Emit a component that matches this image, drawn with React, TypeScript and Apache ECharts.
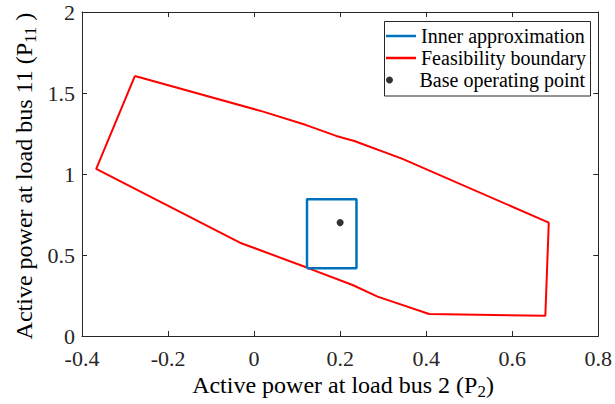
import React, { useEffect, useRef } from "react";
import * as echarts from "echarts";

const xTicks = { min: -0.4, max: 0.8, step: 0.2 };
const yTicks = { min: 0, max: 2, step: 0.5 };

const feasP2 = [-0.277, 0.021, 0.121, 0.191, 0.233, 0.345, 0.685, 0.677, 0.407, 0.287, 0.229, 0.121, -0.033, -0.367, -0.277];
const feasP11 = [1.605, 1.385, 1.302, 1.235, 1.204, 1.093, 0.7, 0.125, 0.136, 0.243, 0.315, 0.424, 0.576, 1.031, 1.605];

const innerP2 = [0.123, 0.238, 0.238, 0.123, 0.123];
const innerP11 = [0.418, 0.418, 0.844, 0.844, 0.418];

const baseP2 = [0.2];
const baseP11 = [0.7];

const names = ["Inner approximation", "Feasibility boundary", "Base operating point"];

const FONT = "'Liberation Serif', 'Times New Roman', serif";
const AX = "#262626";

const zip = (a: number[], b: number[]) => a.map((v, i) => [v, b[i]]);

export default function App() {
  const ref = useRef<HTMLDivElement>(null);
  useEffect(() => {
    const chart = echarts.init(ref.current!, null, { renderer: "svg" });
    const axisCommon = {
      type: "value" as const,
      axisLine: { show: true, onZero: false, lineStyle: { color: AX, width: 1 } },
      axisTick: { show: true, inside: true, length: 5, lineStyle: { color: AX } },
      splitLine: { show: false },
    };
    const labelStyle = { fontFamily: FONT, fontSize: 22, color: AX, lineHeight: 16 };
    const subStyle = { fontFamily: FONT, fontSize: 17, fill: "#000", padding: [13, 0, 0, 0], verticalAlign: "bottom" };
    chart.setOption({
      animation: false,
      backgroundColor: "#fff",
      textStyle: { fontFamily: FONT },
      grid: { left: 82, right: 15, top: 12, bottom: 68, containLabel: false },
      xAxis: [
        { ...axisCommon, position: "bottom", min: xTicks.min, max: xTicks.max, interval: xTicks.step,
          axisLabel: { ...labelStyle, margin: 14 } },
        { ...axisCommon, position: "top", min: xTicks.min, max: xTicks.max, interval: xTicks.step,
          axisLabel: { show: false } },
      ],
      yAxis: [
        { ...axisCommon, position: "left", min: yTicks.min, max: yTicks.max, interval: yTicks.step,
          axisLabel: { ...labelStyle, margin: 7 } },
        { ...axisCommon, position: "right", min: yTicks.min, max: yTicks.max, interval: yTicks.step,
          axisLabel: { show: false } },
      ],
      legend: [
        {
          data: [names[0], names[1]],
          orient: "vertical", left: 386, top: 25, padding: 0, itemWidth: 30, itemHeight: 2.5, itemGap: 0,
          icon: "rect",
          textStyle: { fontFamily: FONT, fontSize: 20, color: "#000", lineHeight: 22 },
        },
        {
          data: [names[2]],
          orient: "vertical", left: 386, top: 69, padding: 0, itemWidth: 38, itemHeight: 7, itemGap: 0,
          icon: "circle",
          textStyle: { fontFamily: FONT, fontSize: 20, color: "#000", lineHeight: 22, padding: [0, 0, 0, 6] },
        },
      ],
      graphic: [
        { type: "rect", z: 3, shape: { x: 384.5, y: 21.5, width: 206, height: 74.5 },
          style: { fill: "#fff", stroke: AX, lineWidth: 1 } },
        { type: "text", x: 343, y: 385,
          style: {
            text: "Active power at load bus 2 (P{s|2})",
            fontFamily: FONT, fontSize: 24, fill: "#000", align: "center", verticalAlign: "middle",
            rich: { s: subStyle },
          } },
        { type: "text", x: 24, y: 176, rotation: Math.PI / 2,
          style: {
            text: "Active power at load bus 11 (P{s|11} )",
            fontFamily: FONT, fontSize: 24, fill: "#000", align: "center", verticalAlign: "middle",
            rich: { s: subStyle },
          } },
      ],
      series: [
        { name: names[0], type: "line", data: zip(innerP2, innerP11), symbol: "none", z: 3,
          lineStyle: { color: "#0072BD", width: 2.5 }, itemStyle: { color: "#0072BD" } },
        { name: names[1], type: "line", data: zip(feasP2, feasP11), symbol: "none", z: 2,
          lineStyle: { color: "#FF0000", width: 2 }, itemStyle: { color: "#FF0000" } },
        { name: names[2], type: "scatter", data: zip(baseP2, baseP11), symbolSize: 7, z: 4,
          itemStyle: { color: "#000" } },
      ],
    });
    return () => chart.dispose();
  }, []);
  return <div ref={ref} style={{ position: "fixed", left: 0, top: 0, width: 615, height: 404 }} />;
}
